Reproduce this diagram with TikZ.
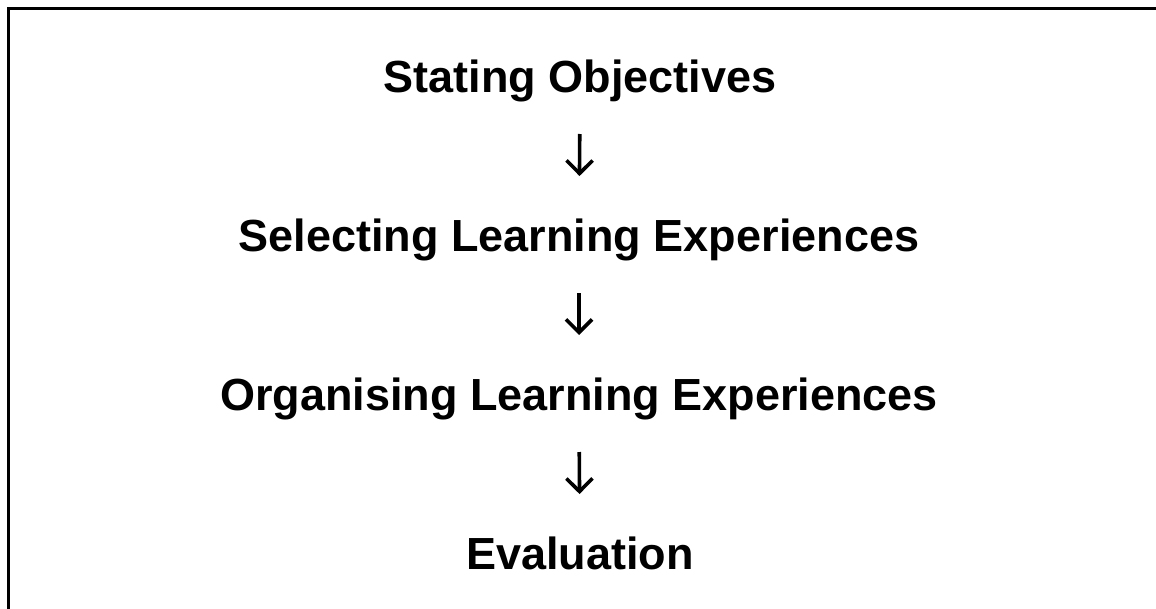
\documentclass[tikz,border=0pt]{standalone}
\usepackage{fontspec}
\setmainfont{Liberation Sans}
\usetikzlibrary{arrows.meta}
\tikzset{
  stage/.style={anchor=base, inner sep=0pt, font=\fontsize{45}{54}\selectfont\bfseries, text=black},
  flow/.style={line width=3.6pt, -{Straight Barb[length=13pt,width=26pt,line width=3.6pt]}, shorten <=42pt, shorten >=75pt},
  frame/.style={line width=2.6pt, black}
}
\begin{document}
\begin{tikzpicture}[x=1pt,y=-1pt]
\useasboundingbox[fill=white] (0,0) rectangle (1156,608);
\draw[frame] (8.5,620) -- (8.5,8.5) -- (1170,8.5);
\node[stage] (s1) at (580,92) {Stating Objectives};
\node[stage] (s2) at (579,251) {Selecting Learning Experiences};
\node[stage] (s3) at (579,410) {Organising Learning Experiences};
\node[stage] (s4) at (580,569) {Evaluation};
\draw[flow] (s1.base) -- (s2.base);
\draw[flow] (s2.base) -- (s3.base);
\draw[flow] (s3.base) -- (s4.base);
\end{tikzpicture}
\end{document}
